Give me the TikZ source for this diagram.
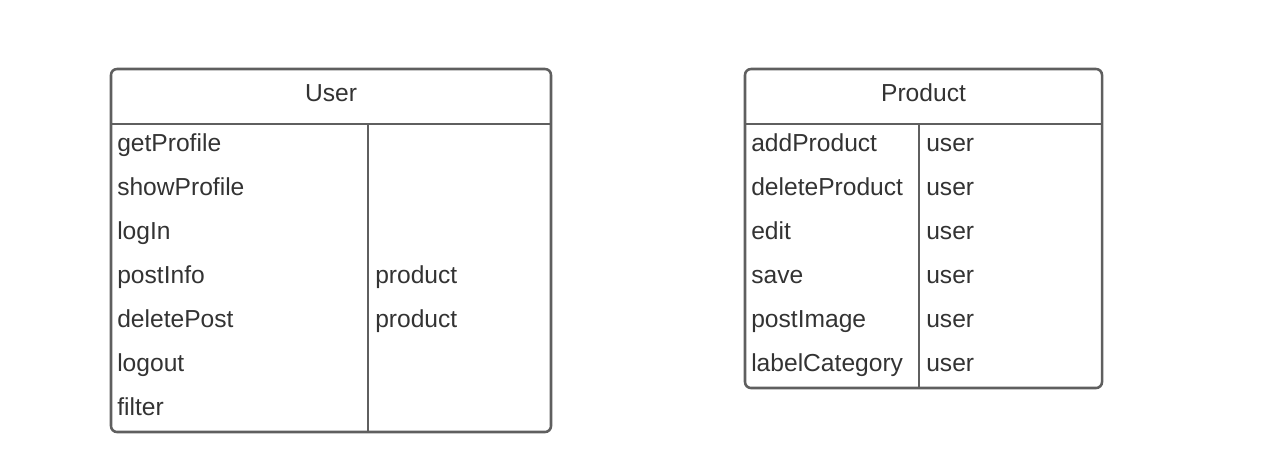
\documentclass[tikz,border=0pt]{standalone}
\usepackage{fontspec}
\setmainfont{Liberation Sans}
\definecolor{linegray}{HTML}{5F5F5F}
\definecolor{txt}{HTML}{333333}
\begin{document}
\begin{tikzpicture}[x=0.75pt,y=-0.75pt,
  classbox/.style={draw=linegray,line width=1.9pt,rounded corners=4.5pt,rectangle,inner sep=0pt},
  sep/.style={draw=linegray,line width=1.9pt},
  lbl/.style={anchor=base west,inner sep=0pt,text=txt,font=\fontsize{18.45pt}{21pt}\selectfont},
  head/.style={anchor=base,inner sep=0pt,text=txt,font=\fontsize{18.45pt}{21pt}\selectfont}]
\useasboundingbox (0,0) rectangle (1276,462);
% User class
\node[classbox,minimum width=330pt,minimum height=272.25pt] (user) at (331,250.5) {};
\coordinate (uhl) at (111,124);
\coordinate (uhr) at (551,124);
\coordinate (udt) at (368,124);
\coordinate (udb) at (368,432);
\draw[sep] (uhl) -- (uhr);
\draw[sep] (udt) -- (udb);
\node[head] (usertitle) at (331,101) {User};
\node[lbl] (u1) at (117,151) {getProfile};
\node[lbl] (u2) at (117,195) {showProfile};
\node[lbl] (u3) at (117,239) {logIn};
\node[lbl] (u4) at (117,283) {postInfo};
\node[lbl] (u5) at (117,327) {deletePost};
\node[lbl] (u6) at (117,371) {logout};
\node[lbl] (u7) at (117,415) {filter};
\node[lbl] (u4b) at (375,283) {product};
\node[lbl] (u5b) at (375,327) {product};
% Product class
\node[classbox,minimum width=267.75pt,minimum height=239.25pt] (product) at (923.5,228.5) {};
\coordinate (phl) at (745,124);
\coordinate (phr) at (1102,124);
\coordinate (pdt) at (919,124);
\coordinate (pdb) at (919,388);
\draw[sep] (phl) -- (phr);
\draw[sep] (pdt) -- (pdb);
\node[head] (prodtitle) at (923.5,101) {Product};
\node[lbl] (p1) at (751,151) {addProduct};
\node[lbl] (p2) at (751,195) {deleteProduct};
\node[lbl] (p3) at (751,239) {edit};
\node[lbl] (p4) at (751,283) {save};
\node[lbl] (p5) at (751,327) {postImage};
\node[lbl] (p6) at (751,371) {labelCategory};
\node[lbl] (p1b) at (926,151) {user};
\node[lbl] (p2b) at (926,195) {user};
\node[lbl] (p3b) at (926,239) {user};
\node[lbl] (p4b) at (926,283) {user};
\node[lbl] (p5b) at (926,327) {user};
\node[lbl] (p6b) at (926,371) {user};
\end{tikzpicture}
\end{document}
